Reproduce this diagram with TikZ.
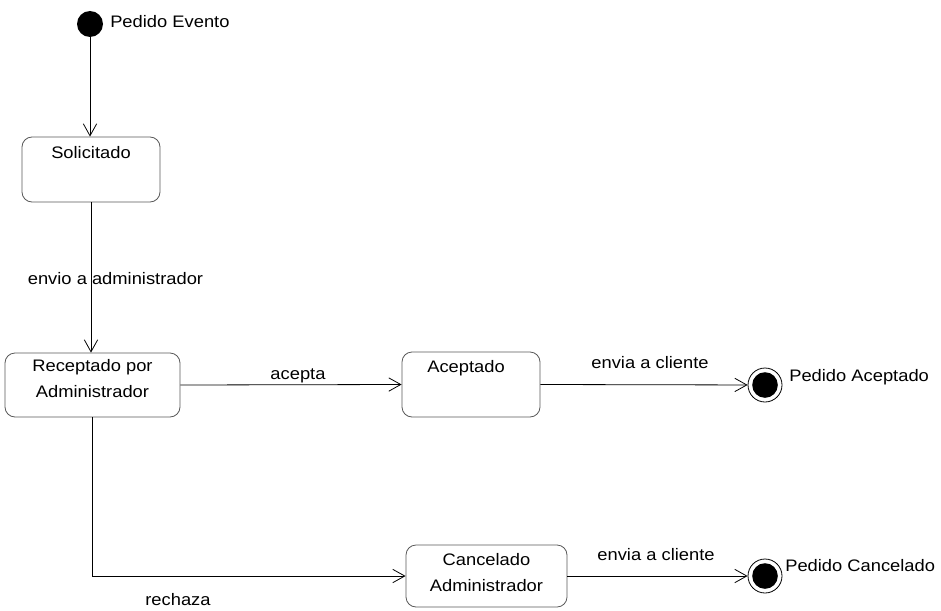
\documentclass[tikz,border=0pt]{standalone}
\usepackage{fontspec}
\setmainfont{Liberation Sans}[FakeStretch=1.1]
\usetikzlibrary{arrows.meta}
\begin{document}
\begin{tikzpicture}[x=0.75pt, y=-0.75pt,
    every node/.style={font=\fontsize{12.5}{19.5}\selectfont, inner sep=0pt},
    state/.style={draw=black!65, line width=0.6pt, rounded corners=7.5pt},
    trans/.style={line width=0.6pt, -{Straight Barb[length=9pt, width=10pt]}},
    initial/.style={circle, fill=black, minimum size=19.5pt},
    final/.style={circle, draw=black, line width=0.6pt, minimum size=25.5pt,
        path picture={\fill[black] (path picture bounding box.center) circle (9.6pt);}}]
    \useasboundingbox (0,0) rectangle (941,610);

    \node[initial] (inicio) at (90,24) {};
    \node[anchor=west] (inicioTxt) at (110,22) {Pedido Evento};

    \node[state, minimum width=103.5pt, minimum height=48.75pt] (solicitado) at (91,169.5) {};
    \node (solicitadoTxt) at (91,153) {Solicitado};

    \node[state, minimum width=131.25pt, minimum height=48pt] (receptado) at (92.5,385) {};
    \node[align=center] (receptadoTxt) at (92.5,379) {Receptado por\\Administrador};

    \node[state, minimum width=103.5pt, minimum height=48.75pt] (aceptado) at (471,384.5) {};
    \node (aceptadoTxt) at (466,368) {Aceptado};

    \node[state, minimum width=120.75pt, minimum height=46.5pt] (cancelado) at (486.5,576) {};
    \node[align=center] (canceladoTxt) at (486.5,573) {Cancelado\\Administrador};

    \node[final] (finAceptado) at (765,385) {};
    \node[anchor=west] (finAceptadoTxt) at (789,377) {Pedido Aceptado};
    \node[final] (finCancelado) at (765,576) {};
    \node[anchor=west] (finCanceladoTxt) at (785,566) {Pedido Cancelado};

    \draw[trans] (inicio) -- (inicio |- solicitado.north);
    \draw[trans] (solicitado.south) -- (solicitado.south |- receptado.north);
    \node (envioAdm) at (115.5,279) {envio a administrador};

    \draw[trans] (receptado.east) -- (aceptado.west);
    \node (acepta) at (298,376) {acepta};

    \draw[trans] (aceptado.east) -- (finAceptado);
    \node (enviaA) at (650,363) {envia a cliente};

    \draw[trans] (receptado.south) |- (cancelado.west);
    \node (rechaza) at (178,600) {rechaza};

    \draw[trans] (cancelado.east) -- (finCancelado);
    \node (enviaC) at (656,555) {envia a cliente};
\end{tikzpicture}
\end{document}
